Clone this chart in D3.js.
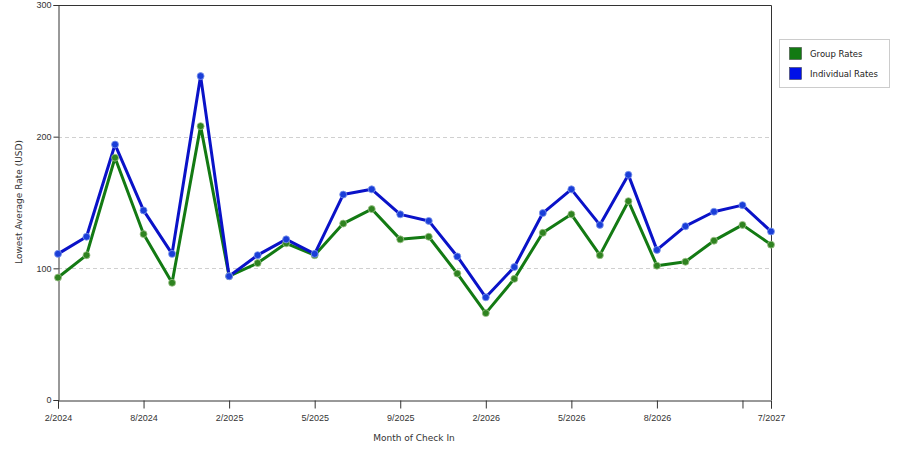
<!DOCTYPE html>
<html>
<head>
<meta charset="utf-8">
<script src="https://cdn.jsdelivr.net/npm/d3@7"></script>
<style>
  html, body { margin: 0; padding: 0; background: #fff; }
  svg { display: block; font-family: "DejaVu Sans", Verdana, sans-serif; }
</style>
</head>
<body>
<svg id="chart" width="900" height="450"></svg>
<script>
// ---- data ----
const pointIndex = d3.range(26);
const tickLabels = ["2/2024","","","8/2024","","","2/2025","","","5/2025","","","9/2025","","","2/2026","","","5/2026","","","8/2026","","","","7/2027"];
const tickPositions = [0, 3, 6, 9, 12, 15, 18, 21, 24, 25];
const groupRates = [93, 110, 184, 126, 89, 208, 94, 104, 119, 110, 134, 145, 122, 124, 96, 66, 92, 127, 141, 110, 151, 102, 105, 121, 133, 118];
const individualRates = [111, 124, 194, 144, 111, 246, 94, 110, 122, 111, 156, 160, 141, 136, 109, 78, 101, 142, 160, 133, 171, 114, 132, 143, 148, 128];
const yTicks = [0, 100, 200, 300];
const seriesNames = ["Group Rates", "Individual Rates"];

const svg = d3.select("#chart");
const L = 58, R = 771, T = 5, B = 400;

const x = d3.scalePoint().domain(pointIndex).range([L, R]);
const y = d3.scaleLinear().domain([0, 300]).range([B, T]);

// gridlines
svg.append("g").selectAll("line").data([100, 200]).join("line")
  .attr("x1", L).attr("x2", R)
  .attr("y1", d => Math.round(y(d)) + 0.5).attr("y2", d => Math.round(y(d)) + 0.5)
  .attr("stroke", "#d0d0d0").attr("stroke-dasharray", "4,3");

// frame top/right
svg.append("path")
  .attr("d", `M${L},${T + 0.5}H${R + 0.5}V${B}`)
  .attr("fill", "none").attr("stroke", "#333");

// y axis
const yAxis = svg.append("g").attr("transform", `translate(${L + 0.5},0)`)
  .call(d3.axisLeft(y).tickValues(yTicks).tickSize(5).tickPadding(2).tickFormat(d3.format("d")));
yAxis.select(".domain").attr("stroke", "#333");
yAxis.selectAll(".tick line").attr("stroke", "#333");
yAxis.selectAll("text").attr("font-size", 9).attr("fill", "#333");

// x axis
const xAxis = svg.append("g").attr("transform", `translate(0,${B + 0.5})`)
  .call(d3.axisBottom(x).tickValues(tickPositions).tickSize(8).tickPadding(6)
    .tickFormat(i => tickLabels[i]));
xAxis.select(".domain").attr("stroke", "#333");
xAxis.selectAll(".tick line").attr("stroke", "#333");
xAxis.selectAll("text").attr("font-size", 9).attr("fill", "#333");

// axis titles
svg.append("text").attr("x", 414).attr("y", 441).attr("text-anchor", "middle")
  .attr("font-size", 9).attr("fill", "#333").text("Month of Check In");
svg.append("text").attr("transform", "translate(22,202) rotate(-90)").attr("text-anchor", "middle")
  .attr("font-size", 9).attr("fill", "#333").text("Lowest Average Rate (USD)");

// series
const series = [
  { name: seriesNames[0], values: groupRates, line: "#137a13", dot: "#2f8320", halo: "#9cc088", sw: "#127a12" },
  { name: seriesNames[1], values: individualRates, line: "#0a12c8", dot: "#1a3ed8", halo: "#8098ec", sw: "#0010e8" }
];
const lineGen = d3.line().x((d, i) => x(i)).y(d => y(d));

series.forEach(s => {
  svg.append("path").datum(s.values)
    .attr("d", lineGen).attr("fill", "none")
    .attr("stroke", s.line).attr("stroke-width", 3).attr("stroke-linejoin", "round");
});
series.forEach(s => {
  svg.append("g").selectAll("circle").data(s.values).join("circle")
    .attr("cx", (d, i) => x(i)).attr("cy", d => y(d)).attr("r", 3.5)
    .attr("fill", s.dot).attr("stroke", s.halo).attr("stroke-width", 1).attr("stroke-opacity", 0.8);
});

// legend
const lg = svg.append("g");
lg.append("rect").attr("x", 779.5).attr("y", 39.5).attr("width", 110).attr("height", 48)
  .attr("fill", "#fff").attr("stroke", "#ccc");
series.forEach((s, i) => {
  lg.append("rect").attr("x", 789.5).attr("y", 47.5 + i * 20).attr("width", 12).attr("height", 12)
    .attr("fill", s.sw).attr("stroke", "#333").attr("stroke-width", 0.5);
  lg.append("text").attr("x", 810).attr("y", 57 + i * 20).attr("font-size", 8.5).attr("fill", "#222").text(s.name);
});
</script>
</body>
</html>
